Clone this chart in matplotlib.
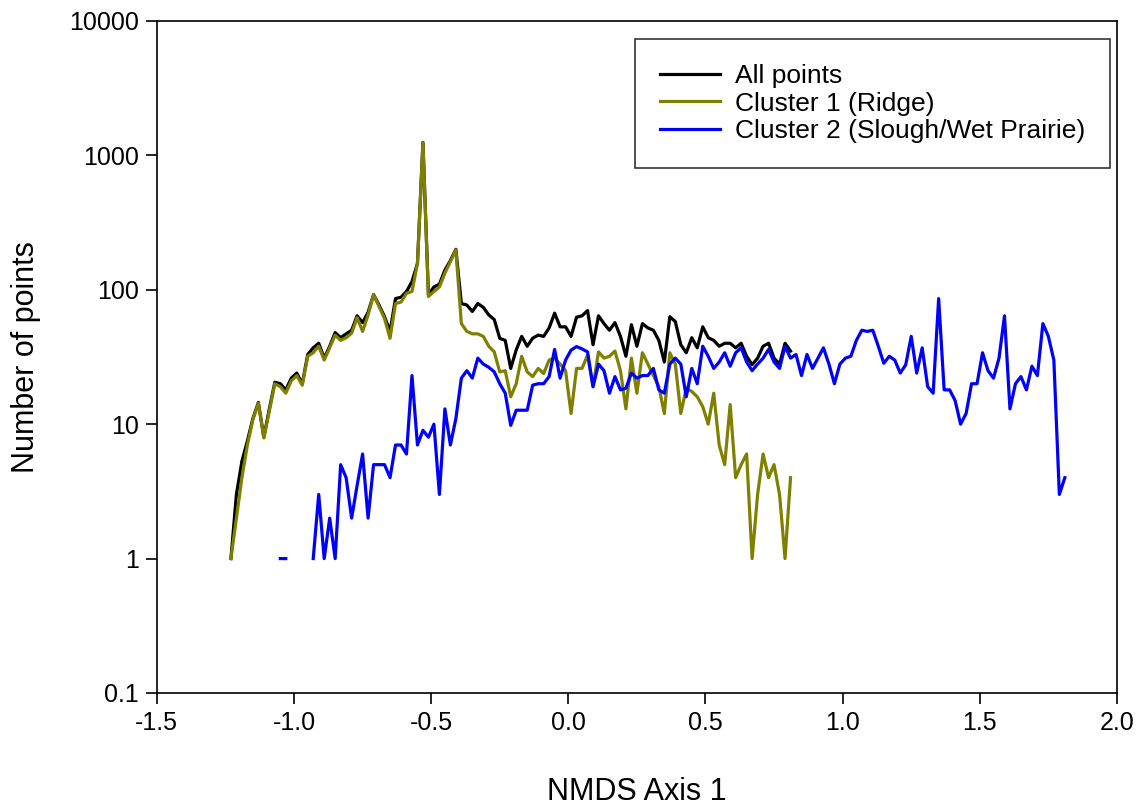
import numpy as np
import matplotlib
matplotlib.use("Agg")
import matplotlib.pyplot as plt
from matplotlib.ticker import FixedLocator, FixedFormatter, NullLocator

plt.rcParams.update({"font.family": ["Liberation Sans", "DejaVu Sans"], "font.size": 18})

# histogram bins along NMDS axis 1 (bin width 0.02, first bin centre -1.23)
N_BINS = 153
nmds_x = np.round(-1.23 + 0.02 * np.arange(N_BINS), 2)
nan = np.nan

all_points = [
    1, 3, 5.3, 7.5, 11, 14.5, 8, 13, 20.5, 20, 18, 22, 24, 20, 33, 37, 40, 31, 38, 48,
    44, 47, 50, 64, 57, 68, 92, 77, 63, 49, 86, 88, 97, 115, 157, 1250, 92, 105, 110, 140,
    165, 200, 79, 77, 69, 79, 74, 65, 60, 43.5, 42, 26, 35.7, 45, 38, 43.6, 46, 45, 52, 67,
    53, 53, 45, 62.5, 64, 70, 39, 64, 56, 50, 57, 45, 32, 55, 38, 56, 52, 50, 42, 29,
    63, 58, 39, 34, 44, 37, 53, 44, 42, 38, 40, 40, 37, 40, 32, 27.7, 31, 38, 40, 31,
    28, 40, 35,
]

cluster1 = [
    1, 2, 4, 7, 10.8, 14.3, 7.9, 12.5, 20, 19, 17, 21, 23, 19.5, 32, 34, 38, 30, 37, 46,
    42, 44, 47.5, 62, 49, 65, 92, 75, 61, 43.5, 79, 81, 94, 97, 157, 1243, 89, 97, 105, 133,
    162, 198, 56, 49, 47, 47, 45, 38, 34.5, 24.5, 25, 16, 20, 32, 24.5, 22.6, 26, 23.8, 30, 31,
    28, 25, 12, 26, 26, 32.6, 19, 34.5, 31, 32, 35, 25, 13, 31, 17, 34, 28, 23, 19, 12,
    34, 28, 12, 18.5, 17.5, 16, 13.5, 10, 17, 7, 5, 14, 4, 5, 6, 1, 3, 6, 4, 5,
    3, 1, 4,
]

cluster2 = [
    nan, nan, nan, nan, nan, nan, nan, nan, nan, 1, 1, nan, nan, nan, nan, 1, 3, 1, 2, 1,
    5, 4, 2, 3.5, 6, 2, 5, 5, 5, 4, 7, 7, 6, 23, 7, 9, 8, 10, 3, 13,
    7, 11, 22, 25, 22, 31, 28, 26.5, 24.5, 20, 17, 9.8, 12.7, 12.7, 12.7, 19.5, 20, 20, 22.6, 36,
    22, 30, 35.6, 37.8, 36.3, 34.5, 19, 28, 25, 17, 22.6, 18, 18.5, 24, 22, 23, 23, 26, 18, 17,
    28, 31, 28, 16, 26, 20, 38, 32, 26, 29, 34, 27, 34, 37, 29, 25, 28, 31, 36, 29,
    26, 38, 31, 33, 23, 33, 26, 31, 37, 28, 20, 28, 31, 32, 42, 50, 49, 50, 38, 28.4,
    32, 30, 24, 27.7, 45, 24, 37, 19, 17, 86, 18, 18, 15, 10, 12, 20, 20, 34, 25, 22,
    31, 64, 13, 20, 22.6, 18, 27, 23, 56, 45, 30, 3, 4,
]

fig = plt.figure(figsize=(11.45, 8.06), dpi=100)
ax = fig.add_axes([0.137, 0.1402, 0.8385, 0.8338])

n1 = len(cluster1)
ax.plot(nmds_x[:len(all_points)], all_points, color="black", lw=2.3, label="All points")
ax.plot(nmds_x[:n1], cluster1, color="#808000", lw=2.3, label="Cluster 1 (Ridge)")
ax.plot(nmds_x, cluster2, color="#0000ff", lw=2.3, label="Cluster 2 (Slough/Wet Prairie)")

ax.set_yscale("log")
ax.set_ylim(0.1, 10000)
ax.set_xlim(-1.5, 2.0)
yt = [0.1, 1, 10, 100, 1000, 10000]
ax.yaxis.set_major_locator(FixedLocator(yt))
ax.yaxis.set_major_formatter(FixedFormatter(["0.1", "1", "10", "100", "1000", "10000"]))
ax.yaxis.set_minor_locator(NullLocator())
ax.set_xticks(np.arange(-1.5, 2.01, 0.5))
ax.set_xticklabels([f"{v:.1f}" for v in np.arange(-1.5, 2.01, 0.5)])

ax.tick_params(axis="both", direction="out", length=8, width=1.2, labelsize=18, pad=5,
               top=False, right=False)
for sp in ax.spines.values():
    sp.set_linewidth(1.2)

ax.set_xlabel("NMDS Axis 1", fontsize=22, labelpad=30)
ax.set_ylabel("Number of points", fontsize=22, labelpad=20)

leg = ax.legend(loc="upper right", bbox_to_anchor=(0.9927, 0.973), fontsize=19,
                handlelength=2.27, handletextpad=0.57, borderpad=0.95, labelspacing=0.13,
                frameon=True, fancybox=False, edgecolor="black", borderaxespad=0)
leg.get_frame().set_linewidth(1.2)

fig.savefig("out.png", dpi=100, facecolor="white")
